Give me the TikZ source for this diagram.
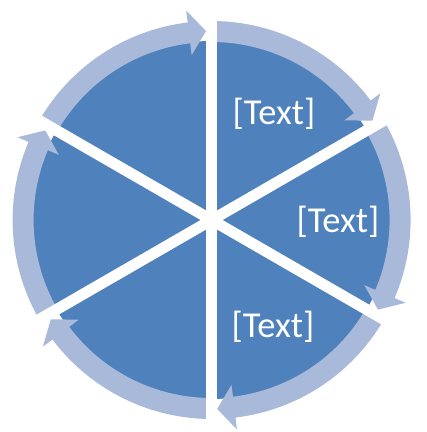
\documentclass[tikz,border=0pt]{standalone}
\usepackage{fontspec}
\setmainfont{Carlito}
\definecolor{pieblue}{HTML}{4F81BD}
\definecolor{ringblue}{HTML}{A8B9DA}
\begin{document}
\begin{tikzpicture}[x=1pt,y=1pt,
  ringarc/.style={fill=ringblue},
  spoke/.style={draw=white,line width=11pt,line cap=butt},
  lbl/.style={text=white,font=\fontsize{36.5}{42}\selectfont,inner sep=0pt}]
\useasboundingbox (-211.6,-212) rectangle (215.4,220);
% pie
\fill[pieblue] (0,0) circle (179);
% ring arcs with arrowheads (clockwise)
\foreach \s in {150,90,30,-30,-90,-150}{
  \pgfmathsetmacro{\e}{\s-60}
  \pgfmathsetmacro{\t}{\e+1.7}
  \pgfmathsetmacro{\b}{\e+6.9}
  \fill[ringarc] (\s:199) arc[start angle=\s, end angle=\b, radius=199]
     -- (\b:211) -- (\t:189) -- (\b:166) -- (\b:178)
     arc[start angle=\b, end angle=\s, radius=178] -- cycle;
}
% white spokes
\foreach \a in {30,90,150}{
  \draw[spoke] (\a:222) -- (\a+180:222);
}
% labels
\node[lbl] (t1) at (62.4,106) {[Text]};
\node[lbl] (t2) at (126.4,-2) {[Text]};
\node[lbl] (t3) at (61.4,-107) {[Text]};
\end{tikzpicture}
\end{document}
